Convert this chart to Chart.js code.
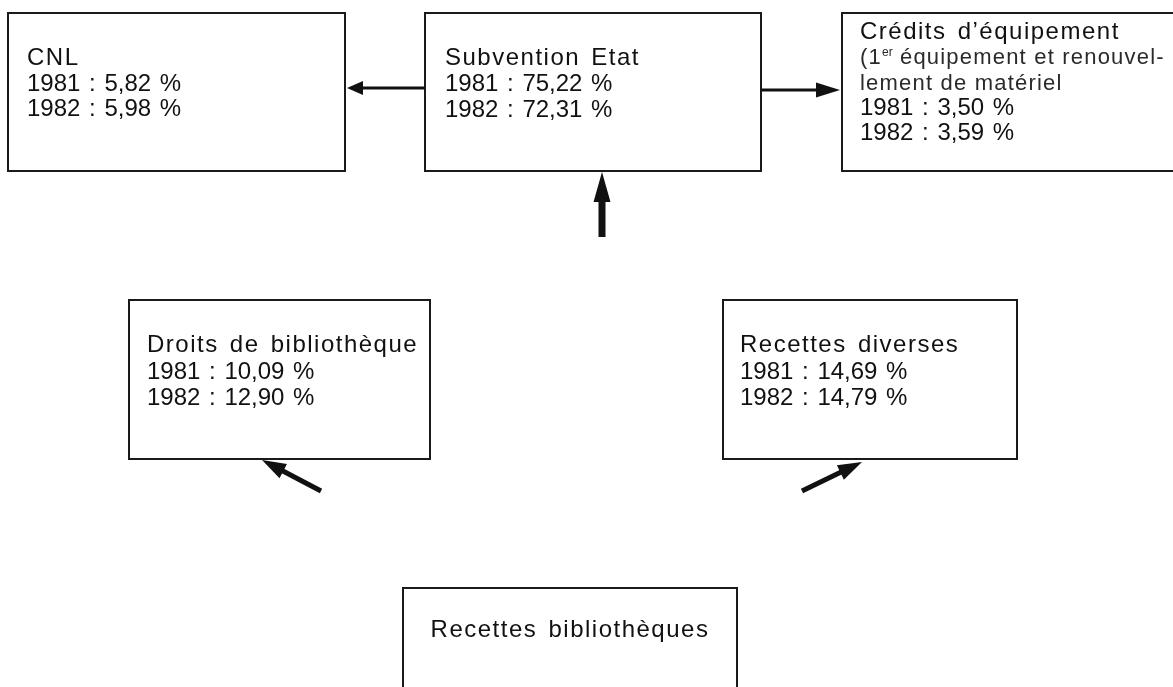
<!DOCTYPE html>
<html>
<head>
<meta charset="utf-8">
<script src="https://cdn.jsdelivr.net/npm/chart.js@4.4.1/dist/chart.umd.min.js"></script>
<style>
html,body{margin:0;padding:0;background:#fff;}
canvas{display:block;}
</style>
</head>
<body>
<canvas id="c" width="1173" height="687"></canvas>
<script>
// ---- data ----
const categories = ['CNL', 'Subvention Etat', 'Crédits d’équipement', 'Droits de bibliothèque', 'Recettes diverses', 'Recettes bibliothèques'];
const years = ['1981', '1982'];
const values1981 = [5.82, 75.22, 3.50, 10.09, 14.69, null];
const values1982 = [5.98, 72.31, 3.59, 12.90, 14.79, null];
const notes = [[], [], [['(1', 'er', ' équipement et renouvel-'], ['lement de matériel']], [], [], []];

// ---- layout (diagram geometry in chart units) ----
const boxes = [
  {x: 8,   y: 13,  w: 337, h: 158, tx: 27,  ty: 65,  lh: 25.5},
  {x: 425, y: 13,  w: 336, h: 158, tx: 445, ty: 65,  lh: 26},
  {x: 842, y: 13,  w: 345, h: 158, tx: 860, ty: 39,  lh: 25.3},
  {x: 129, y: 300, w: 301, h: 159, tx: 147, ty: 352, lh: 26.5},
  {x: 723, y: 300, w: 294, h: 159, tx: 740, ty: 352, lh: 26.5},
  {x: 403, y: 588, w: 334, h: 130, tx: null, ty: 637, lh: 26}
];
const arrows = [
  {x1: 425, y1: 88, x2: 347, y2: 88, sw: 3, hl: 16, hw: 14},
  {x1: 761, y1: 90, x2: 840, y2: 90, sw: 3, hl: 24, hw: 15},
  {x1: 602, y1: 237, x2: 602, y2: 172, sw: 7, hl: 30, hw: 17},
  {x1: 321, y1: 491, x2: 262, y2: 460, sw: 5, hl: 24, hw: 16},
  {x1: 802, y1: 491, x2: 862, y2: 462, sw: 5, hl: 24, hw: 16}
];
const FAMILY = '"Liberation Sans", Arial, sans-serif';
const STYLES = {
  title: {font: '24px ' + FAMILY, ls: '1.5px', ws: '3px', color: '#111'},
  note:  {font: '22px ' + FAMILY, ls: '1.2px', ws: '4px', color: '#2a2a2a'},
  sup:   {font: '12px ' + FAMILY, ls: '0px',   ws: '0px', color: '#2a2a2a'},
  value: {font: '24px ' + FAMILY, ls: '0px',   ws: '2px', color: '#111'}
};

function fmt(v){ return v.toFixed(2).replace('.', ',') + ' %'; }

function applyStyle(ctx, st) {
  ctx.font = st.font;
  ctx.letterSpacing = st.ls;
  ctx.wordSpacing = st.ws;
  ctx.fillStyle = st.color;
}

const diagramPlugin = {
  id: 'diagram',
  afterDatasetsDraw(chart) {
    const ctx = chart.ctx;
    const xs = chart.scales.x, ys = chart.scales.y;
    const px = v => xs.getPixelForValue(v);
    const py = v => ys.getPixelForValue(v);
    ctx.save();
    boxes.forEach((b, i) => {
      const x0 = px(b.x), y0 = py(b.y), x1 = px(b.x + b.w), y1 = py(b.y + b.h);
      ctx.fillStyle = '#fff';
      ctx.fillRect(x0, y0, x1 - x0, y1 - y0);
      ctx.strokeStyle = '#1a1a1a';
      ctx.lineWidth = 2;
      ctx.strokeRect(x0, y0, x1 - x0, y1 - y0);
      ctx.textBaseline = 'alphabetic';
      const lines = [];
      lines.push([[categories[i], 'title', 0]]);
      notes[i].forEach(n => {
        lines.push(n.map((s, k) => (n.length === 3 && k === 1) ? [s, 'sup', -8] : [s, 'note', 0]));
      });
      if (values1981[i] !== null) lines.push([[years[0] + ' : ' + fmt(values1981[i]), 'value', 0]]);
      if (values1982[i] !== null) lines.push([[years[1] + ' : ' + fmt(values1982[i]), 'value', 0]]);
      lines.forEach((segs, li) => {
        let tx;
        if (b.tx === null) {
          let wsum = 0;
          segs.forEach(s => { applyStyle(ctx, STYLES[s[1]]); wsum += ctx.measureText(s[0]).width; });
          tx = (x0 + x1) / 2 - wsum / 2;
        } else tx = px(b.tx);
        const ty = py(b.ty + li * b.lh);
        segs.forEach(s => {
          applyStyle(ctx, STYLES[s[1]]);
          ctx.fillText(s[0], tx, ty + s[2]);
          tx += ctx.measureText(s[0]).width;
        });
      });
    });
    ctx.letterSpacing = '0px';
    ctx.wordSpacing = '0px';
    ctx.fillStyle = '#111';
    ctx.strokeStyle = '#111';
    arrows.forEach(a => {
      const X1 = px(a.x1), Y1 = py(a.y1), X2 = px(a.x2), Y2 = py(a.y2);
      const dx = X2 - X1, dy = Y2 - Y1, L = Math.hypot(dx, dy);
      const ux = dx / L, uy = dy / L, nx = -uy, ny = ux;
      const bx = X2 - ux * a.hl, by = Y2 - uy * a.hl;
      ctx.lineWidth = a.sw;
      ctx.lineCap = 'butt';
      ctx.beginPath();
      ctx.moveTo(X1, Y1);
      ctx.lineTo(bx + ux * 2, by + uy * 2);
      ctx.stroke();
      ctx.beginPath();
      ctx.moveTo(X2, Y2);
      ctx.lineTo(bx + nx * a.hw / 2, by + ny * a.hw / 2);
      ctx.lineTo(bx - nx * a.hw / 2, by - ny * a.hw / 2);
      ctx.closePath();
      ctx.fill();
    });
    ctx.restore();
  }
};

new Chart(document.getElementById('c'), {
  type: 'scatter',
  data: {
    datasets: [{
      label: 'nodes',
      data: boxes.map(b => ({x: b.x + b.w / 2, y: b.y + b.h / 2})),
      pointRadius: 0,
      pointHoverRadius: 0
    }]
  },
  options: {
    responsive: false,
    animation: false,
    devicePixelRatio: 1,
    layout: {padding: 0},
    plugins: {legend: {display: false}, tooltip: {enabled: false}},
    events: [],
    scales: {
      x: {type: 'linear', min: 0, max: 1173, display: false},
      y: {type: 'linear', min: 0, max: 687, reverse: true, display: false}
    }
  },
  plugins: [diagramPlugin]
});
</script>
</body>
</html>
